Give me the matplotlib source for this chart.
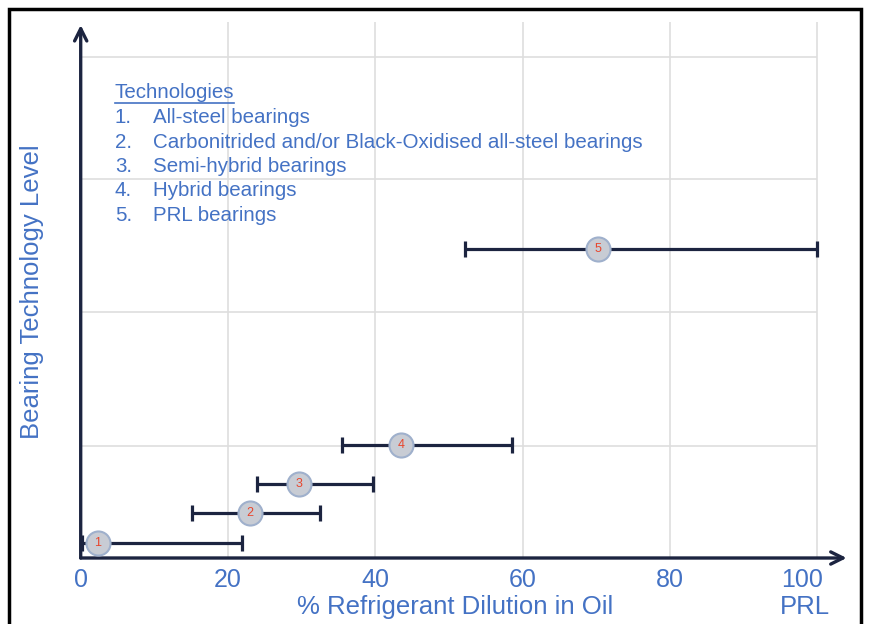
import matplotlib.pyplot as plt
import matplotlib.transforms as mtransforms
from matplotlib.patches import Rectangle
from matplotlib.lines import Line2D

plt.rcParams['font.family'] = ['Liberation Sans', 'DejaVu Sans']

# data
labels = ['1', '2', '3', '4', '5']
centre = [2.3, 23.0, 29.6, 43.5, 70.2]
low = [0.2, 15.1, 23.9, 35.5, 52.2]
high = [21.9, 32.5, 39.7, 58.5, 100.0]
level = [0.15, 0.45, 0.74, 1.13, 3.09]
level_grid = [1.12, 2.46, 3.79, 5.01]
x_ticks = [0, 20, 40, 60, 80, 100]
legend_lines = ['All-steel bearings',
                'Carbonitrided and/or Black-Oxidised all-steel bearings',
                'Semi-hybrid bearings',
                'Hybrid bearings',
                'PRL bearings']

blue = '#4472C4'
navy = '#1c2440'

W, H = 869, 624
fig = plt.figure(figsize=(W / 100, H / 100), dpi=100)
fig.patches.append(Rectangle((9 / W, -0.1), 852 / W, (H - 9) / H + 0.1,
                             transform=fig.transFigure, fill=False,
                             edgecolor='black', lw=2.5, zorder=10))

px = 7.365  # pixels per x unit
ax = fig.add_axes([80.7 / W, 66 / H, 105 * px / W, 540 / H])
ax.set_xlim(0, 105)
ax.set_ylim(0, 5.4)
for s in ax.spines.values():
    s.set_visible(False)

# grid
ax.hlines(level_grid, 0, 100, color='#dedede', lw=1.2, zorder=0)
ax.vlines(x_ticks[1:], 0, 5.36, color='#dedede', lw=1.2, zorder=0)

# axes with arrows
ax.annotate('', xy=(104, 0), xytext=(0, 0), annotation_clip=False,
            arrowprops=dict(arrowstyle='->', lw=2.4, color=navy, mutation_scale=22,
                            shrinkA=0, shrinkB=0))
ax.annotate('', xy=(0, 5.33), xytext=(0, 0), annotation_clip=False,
            arrowprops=dict(arrowstyle='->', lw=2.4, color=navy, mutation_scale=22,
                            shrinkA=0, shrinkB=0))

# ranges
xerr = [[c - l for c, l in zip(centre, low)], [h - c for c, h in zip(centre, high)]]
ax.errorbar(centre, level, xerr=xerr, fmt='none', ecolor=navy, elinewidth=2.3,
            capsize=6, capthick=2.3, zorder=3, clip_on=False)
ax.scatter(centre, level, s=300, facecolor='#c8ccd4', edgecolor='#9fb0cc',
           linewidth=1.5, zorder=4, clip_on=False)
for c, lv, t in zip(centre, level, labels):
    ax.text(c, lv, t, ha='center', va='center', fontsize=9, color='#e8452c', zorder=5)

ax.set_xticks(x_ticks)
ax.set_xticklabels([str(v) for v in x_ticks])
ax.set_yticks([])
ax.tick_params(axis='x', length=0, pad=7, labelsize=18, labelcolor=blue)
last = ax.get_xticklabels()[-1]
last.set_transform(last.get_transform() +
                   mtransforms.ScaledTranslation(-15 / 100, 0, fig.dpi_scale_trans))

ax.text(50.9, -0.49, '% Refrigerant Dilution in Oil', ha='center', va='center',
        fontsize=18.5, color=blue, clip_on=False)
ax.text(98.3, -0.49, 'PRL', ha='center', va='center', fontsize=18.5, color=blue,
        clip_on=False)
ax.text(-6.6, 2.66, 'Bearing Technology Level', rotation=90, ha='center',
        va='center', fontsize=18.5, color=blue, clip_on=False)

# technology list
fs = 14.8
head = ax.text(4.65, 4.65, 'Technologies', ha='left', va='center', fontsize=fs,
               color=blue)
for i, line in enumerate(legend_lines):
    yy = 4.40 - i * 0.243
    ax.text(4.65, yy, f'{i + 1}.', ha='left', va='center', fontsize=fs, color=blue)
    ax.text(9.82, yy, line, ha='left', va='center', fontsize=fs, color=blue)

fig.canvas.draw()
bb = head.get_window_extent()
fig.lines.append(Line2D([bb.x0 / W, bb.x1 / W], [(bb.y0 - 0.5) / H] * 2,
                        transform=fig.transFigure, color=blue, lw=1.2))

fig.savefig('out.png', dpi=100)
